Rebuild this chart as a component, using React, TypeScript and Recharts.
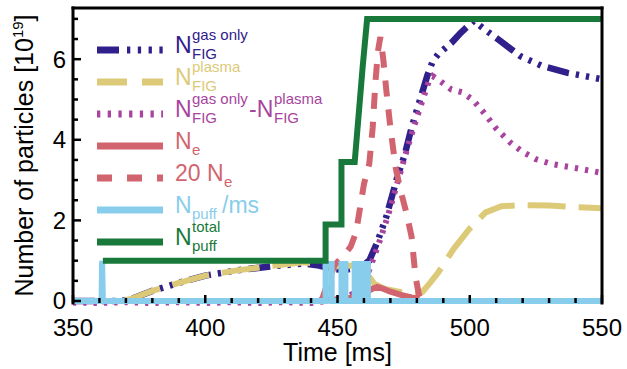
import { Line, LineChart, XAxis, YAxis } from "recharts"

// time [ms] / particles [1e19]
const gasOnly = [
  [350, 0], [368, 0], [372, 0.05], [380, 0.25], [390, 0.45], [400, 0.63], [412, 0.76],
  [425, 0.86], [437, 0.93], [443, 0.88], [448, 0.8], [452, 0.77], [456, 0.8], [460, 0.9],
  [462, 1.0], [465, 1.45], [468.5, 2.1], [472.5, 3.05], [475.5, 3.65], [478, 4.3], [481, 4.95],
  [484, 5.6], [486, 5.95], [488, 6.12], [493, 6.4], [496.5, 6.65], [501.5, 6.95], [506, 6.72],
  [511, 6.48], [519, 6.08], [527, 5.84], [537, 5.66], [550, 5.5],
]

const plasma = [
  [350, 0], [368, 0], [372, 0.05], [380, 0.25], [390, 0.45], [400, 0.63], [412, 0.76],
  [425, 0.87], [437, 0.96], [444, 0.92], [450, 0.86], [456, 0.88], [460, 0.8], [462, 0.6],
  [464, 0.42], [468, 0.3], [474, 0.22], [480, 0.17], [482, 0.22], [485, 0.45], [488, 0.7],
  [494, 1.3], [500, 1.8], [506, 2.2], [512, 2.35], [520, 2.38], [530, 2.37], [540, 2.33], [550, 2.3],
]

const gasMinusPlasma = [
  [350, -0.04], [360, -0.05], [370, -0.03], [380, -0.05], [390, -0.03], [400, -0.05],
  [410, -0.03], [420, -0.05], [430, -0.03], [440, -0.05], [446, 0], [452, 0.08], [456, 0.18],
  [459, 0.33], [461, 0.6], [463, 0.95], [466, 1.5], [469, 2.1], [472.5, 2.9], [476, 3.7],
  [479, 4.35], [482, 4.95], [484.5, 5.45], [486, 5.58], [489, 5.45], [493, 5.25], [497, 5.18],
  [501, 5.0], [505, 4.7], [510, 4.28], [515, 3.95], [520, 3.7], [525, 3.52], [531, 3.4],
  [538, 3.32], [544, 3.25], [550, 3.18],
]

const ne = [
  [443, 0.01], [448, 0.03], [453, 0.06], [457, 0.1], [460, 0.18], [463, 0.3], [465, 0.35],
  [467, 0.31], [470, 0.23], [474, 0.15], [478, 0.09], [481, 0.05],
]

const ne20 = [
  [444, 0], [446, 0.4], [449, 0.9], [452, 1.1], [455, 1.35], [457, 1.7], [458.5, 2.3],
  [460, 2.9], [462, 3.4], [463.3, 4.3], [464.3, 5.4], [465.3, 6.2], [466.2, 6.55], [467.3, 6.0],
  [468.5, 5.2], [470, 4.3], [472, 3.3], [474, 2.7], [476, 2.2], [478, 1.6], [479.5, 0.6], [481, 0.08],
]

const puffRate = [
  [350, 0], [360.8, 0], [361, 1.0], [361.3, 0], [445.5, 0], [445.5, 0.92],
  [447.8, 0.92], [447.8, 0], [451.5, 0], [451.5, 0.92], [453, 0.92], [453, 0], [456.5, 0],
  [456.5, 0.92], [458, 0.92], [458, 0], [460, 0], [460, 0.92], [461.5, 0.92], [461.5, 0], [550, 0],
]

const puffTotal = [
  [361.3, 1.0], [445.5, 1.0], [445.5, 1.9], [451.5, 1.9], [451.5, 3.45], [456.5, 3.45],
  [459.5, 5.8], [461.2, 7.0], [550, 7.0],
]

const xTicks = [350, 360, 370, 380, 390, 400, 410, 420, 430, 440, 450, 460, 470, 480, 490, 500, 510, 520, 530, 540, 550]
const yTicks = [0, 0.5, 1, 1.5, 2, 2.5, 3, 3.5, 4, 4.5, 5, 5.5, 6, 6.5, 7]

const FONT = "'Liberation Sans', Arial, sans-serif"

const series = [
  { id: "gasOnly", data: gasOnly, color: "#30208C", width: 6.5, dash: "22 7 3.3 7 3.3 7 3.3 7", legendDash: "22 8 3.3 7.5 3.3 7.5 3.3 7.5 3.3 8" },
  { id: "plasma", data: plasma, color: "#DCCA78", width: 6, dash: "38 13", legendDash: "30 15" },
  { id: "diff", data: gasMinusPlasma, color: "#A8449E", width: 6, dash: "3.3 7", legendDash: "3.3 7.4" },
  { id: "ne", data: ne, color: "#D2646F", width: 6, dash: undefined, legendDash: undefined },
  { id: "ne20", data: ne20, color: "#D2646F", width: 6, dash: "16 13", legendDash: "15 15" },
  { id: "puffRate", data: puffRate, color: "#88CDEB", width: 6, dash: undefined, legendDash: undefined },
  { id: "puffTotal", data: puffTotal, color: "#18793A", width: 6, dash: undefined, legendDash: undefined },
]

const toPoints = (arr: number[][]) => arr.map(([t, v]) => ({ t, v }))

const BottomTick = (p: any) => {
  const v = p.payload.value
  const major = v % 50 === 0
  return (
    <g>
      <line x1={p.x} x2={p.x} y1={p.y} y2={p.y - (major ? 8 : 5)} stroke="#000" strokeWidth={2.5} />
      {major && (
        <text x={p.x} y={p.y + 33} textAnchor="middle" fontSize={24} fontFamily={FONT} fill="#000">{v}</text>
      )}
    </g>
  )
}

const TopTick = (p: any) => {
  const major = p.payload.value % 50 === 0
  return <line x1={p.x} x2={p.x} y1={p.y} y2={p.y + (major ? 8 : 5)} stroke="#000" strokeWidth={2.5} />
}

const LeftTick = (p: any) => {
  const v = p.payload.value
  const major = v % 2 === 0
  return (
    <g>
      <line x1={p.x} x2={p.x + (major ? 8 : 5)} y1={p.y} y2={p.y} stroke="#000" strokeWidth={2.5} />
      {major && (
        <text x={p.x - 7} y={p.y + 8.5} textAnchor="end" fontSize={24} fontFamily={FONT} fill="#000">{v}</text>
      )}
    </g>
  )
}

const RightTick = (p: any) => {
  const major = p.payload.value % 2 === 0
  return <line x1={p.x} x2={p.x - (major ? 8 : 5)} y1={p.y} y2={p.y} stroke="#000" strokeWidth={2.5} />
}

const XTitle = (p: any) => {
  const vb = p.viewBox
  return (
    <text x={vb.x + vb.width / 2} y={vb.y + 58} textAnchor="middle" fontSize={25} fontFamily={FONT} fill="#000">
      Time [ms]
    </text>
  )
}

const YTitle = (p: any) => {
  const vb = p.viewBox
  const x = vb.x + 33
  const y = vb.y + vb.height / 2
  return (
    <text x={x} y={y} transform={`rotate(-90 ${x} ${y})`} textAnchor="middle" fontSize={25} fontFamily={FONT} fill="#000">
      Number of particles [10<tspan dy={-10} fontSize={15}>19</tspan><tspan dy={10}>]</tspan>
    </text>
  )
}

function LegendLabel({ id, y, color }: { id: string; y: number; color: string }) {
  const big = 23
  const small = 15
  const sup = -13
  const sub = 6
  const t = (x: number, dy: number, size: number, s: string) => (
    <text x={x} y={y + dy} fontSize={size} fill={color} fontFamily={FONT}>{s}</text>
  )
  switch (id) {
    case "gasOnly":
      return <g>{t(175, 0, big, "N")}{t(192, sup, small, "gas only")}{t(192, sub, small, "FIG")}</g>
    case "plasma":
      return <g>{t(175, 0, big, "N")}{t(192, sup, small, "plasma")}{t(192, sub, small, "FIG")}</g>
    case "diff":
      return (
        <g>
          {t(175, 0, big, "N")}{t(192, sup, small, "gas only")}{t(192, sub, small, "FIG")}
          {t(249, 0, big, "-N")}{t(274, sup, small, "plasma")}{t(274, sub, small, "FIG")}
        </g>
      )
    case "ne":
      return <g>{t(175, 0, big, "N")}{t(192, sub, small, "e")}</g>
    case "ne20":
      return <g>{t(175, 0, big, "20 N")}{t(224, sub, small, "e")}</g>
    case "puffRate":
      return <g>{t(175, 0, big, "N")}{t(192, sub, small, "puff")}{t(222, 0, big, "/ms")}</g>
    default:
      return <g>{t(175, 0, big, "N")}{t(192, sup, small, "total")}{t(192, sub, small, "puff")}</g>
  }
}

export default function App() {
  return (
    <div style={{ position: "relative", width: 627, height: 369 }}>
      <style>{"body{margin:0}"}</style>
      <LineChart width={627} height={369} margin={{ top: 0, right: 0, bottom: 0, left: 0 }}>
        <XAxis
          xAxisId="top" orientation="top" type="number" dataKey="t" domain={[350, 550]} ticks={xTicks}
          interval={0} height={8} tickSize={0} tickMargin={0} tick={TopTick}
          axisLine={{ stroke: "#000", strokeWidth: 3, strokeLinecap: "square" }}
        />
        <XAxis
          type="number" dataKey="t" domain={[350, 550]} ticks={xTicks} interval={0} height={66}
          tickSize={0} tickMargin={0} tick={BottomTick} axisLine={false} label={<XTitle />}
        />
        <YAxis
          type="number" domain={[-0.05, 7.27]} ticks={yTicks} interval={0} width={73}
          tickSize={0} tickMargin={0} tick={LeftTick}
          axisLine={{ stroke: "#000", strokeWidth: 3, strokeLinecap: "square" }} label={<YTitle />}
        />
        <YAxis
          yAxisId="right" orientation="right" type="number" domain={[-0.05, 7.27]} ticks={yTicks}
          interval={0} width={25} tickSize={0} tickMargin={0} tick={RightTick}
          axisLine={{ stroke: "#000", strokeWidth: 3, strokeLinecap: "square" }}
        />
        {series.map((s) => (
          <Line
            key={s.id}
            data={toPoints(s.data)}
            dataKey="v"
            type="linear"
            stroke={s.color}
            strokeWidth={s.width}
            strokeDasharray={s.dash}
            dot={false}
            activeDot={false}
            isAnimationActive={false}
          />
        ))}
      </LineChart>
      <svg width={627} height={369} style={{ position: "absolute", left: 0, top: 0, pointerEvents: "none" }}>
        {series.map((s, i) => {
          const y = 50 + 32 * i
          return (
            <g key={s.id}>
              <line x1={97} x2={163} y1={y} y2={y} stroke={s.color} strokeWidth={7} strokeDasharray={s.legendDash} />
              <LegendLabel id={s.id} y={y + 3} color={s.color} />
            </g>
          )
        })}
      </svg>
    </div>
  )
}
